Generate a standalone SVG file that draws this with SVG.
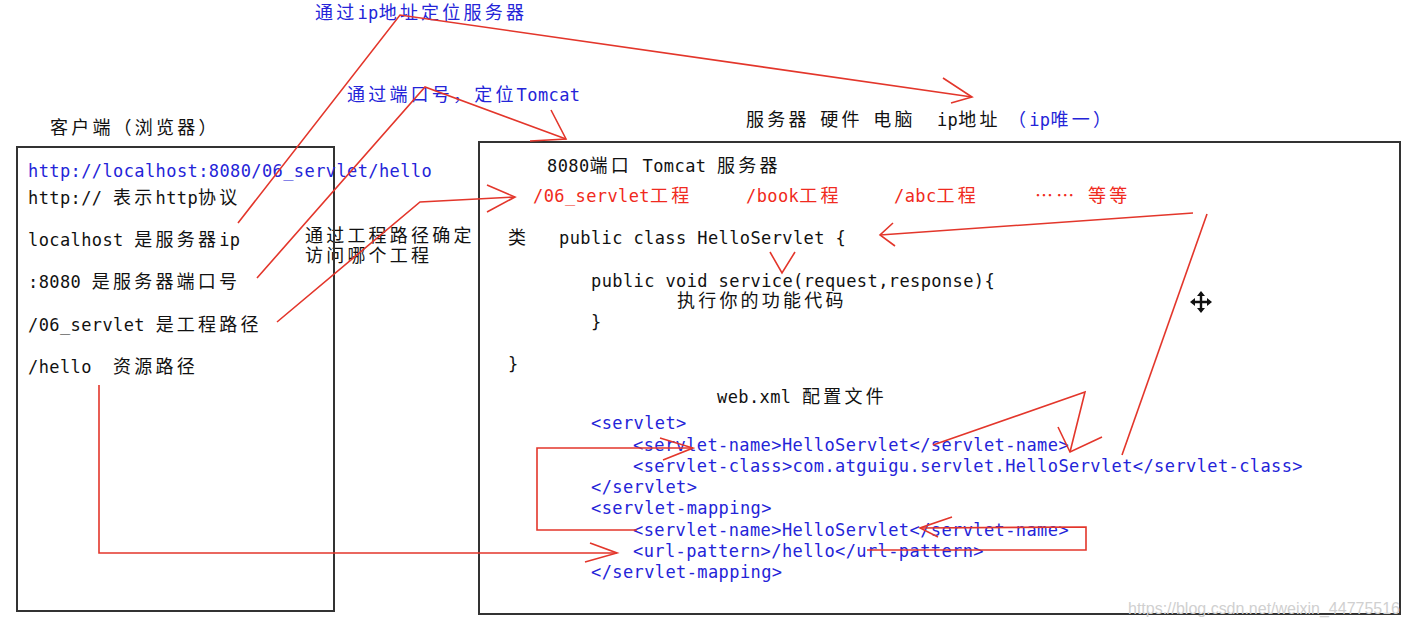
<svg xmlns="http://www.w3.org/2000/svg" width="1408" height="628" viewBox="0 0 1408 628">
<style>
.t{font-family:"DejaVu Sans Mono","Noto Sans CJK SC",monospace;font-size:17px;letter-spacing:0.4px;white-space:pre;fill:#111}
.c{font-family:"Noto Sans CJK SC",sans-serif;font-size:18px;letter-spacing:3.2px}
.b{fill:#2424d8}
.r{fill:#f02a20}
.box{fill:none;stroke:#333;stroke-width:2}
.ln{fill:none;stroke:#e3362b;stroke-width:1.6;stroke-linejoin:miter}
.wm{font-family:"Liberation Sans",Arial,sans-serif;font-size:16px;fill:#d0d0d0}
</style>
<rect width="1408" height="628" fill="#fff"/>

<g id="label-ip">
<text class="t b" x="315" y="19"><tspan class="c">通过</tspan>ip<tspan class="c">地址定位服务器</tspan></text>
</g>
<g id="label-port">
<text class="t b" x="347" y="101"><tspan class="c">通过端口号，定位</tspan>Tomcat</text>
</g>
<g id="label-project">
<text class="t" x="305" y="242"><tspan class="c">通过工程路径确定</tspan></text>
<text class="t" x="305" y="262"><tspan class="c">访问哪个工程</tspan></text>
</g>

<g id="client">
<text class="t" x="50" y="134"><tspan class="c">客户端（浏览器）</tspan></text>
<rect class="box" x="17" y="147" width="317" height="464"/>
<text class="t b" x="28" y="177">http://localhost:8080/06_servlet/hello</text>
<text class="t" x="28" y="204">http:// <tspan class="c">表示</tspan>http<tspan class="c">协议</tspan></text>
<text class="t" x="28" y="246">localhost <tspan class="c">是服务器</tspan>ip</text>
<text class="t" x="28" y="288">:8080 <tspan class="c">是服务器端口号</tspan></text>
<text class="t" x="28" y="331">/06_servlet <tspan class="c">是工程路径</tspan></text>
<text class="t" x="28" y="373">/hello  <tspan class="c">资源路径</tspan></text>
</g>

<g id="server">
<text class="t" x="746" y="126"><tspan class="c">服务器</tspan> <tspan class="c">硬件</tspan> <tspan class="c">电脑</tspan>  ip<tspan class="c">地址</tspan></text>
<text class="t b" x="1008" y="126"><tspan class="c">（</tspan>ip<tspan class="c">唯一）</tspan></text>
<rect class="box" x="479" y="142" width="921" height="472"/>
</g>

<g id="tomcat">
<text class="t" x="547" y="172">8080<tspan class="c">端口</tspan> Tomcat <tspan class="c">服务器</tspan></text>
<text class="t r" x="533" y="202">/06_servlet<tspan class="c">工程</tspan></text>
<text class="t r" x="746" y="202">/book<tspan class="c">工程</tspan></text>
<text class="t r" x="894" y="202">/abc<tspan class="c">工程</tspan></text>
<text class="t r" x="1035" y="202"><tspan class="c">……</tspan> <tspan class="c">等等</tspan></text>
</g>

<g id="servlet-class">
<text class="t" x="508" y="244"><tspan class="c">类</tspan></text>
<text class="t" x="559" y="244">public class HelloServlet {</text>
<text class="t" x="591" y="287">public void service(request,response){</text>
<text class="t" x="677" y="307"><tspan class="c">执行你的功能代码</tspan></text>
<text class="t" x="591" y="328">}</text>
<text class="t" x="508" y="370">}</text>
</g>

<g id="web-xml">
<text class="t" x="717" y="403">web.xml <tspan class="c">配置文件</tspan></text>
<text class="t b" x="591" y="429">&lt;servlet&gt;</text>
<text class="t b" x="633" y="451">&lt;servlet-name&gt;HelloServlet&lt;/servlet-name&gt;</text>
<text class="t b" x="633" y="472">&lt;servlet-class&gt;com.atguigu.servlet.HelloServlet&lt;/servlet-class&gt;</text>
<text class="t b" x="591" y="493">&lt;/servlet&gt;</text>
<text class="t b" x="591" y="514">&lt;servlet-mapping&gt;</text>
<text class="t b" x="633" y="536">&lt;servlet-name&gt;HelloServlet&lt;/servlet-name&gt;</text>
<text class="t b" x="633" y="557">&lt;url-pattern&gt;/hello&lt;/url-pattern&gt;</text>
<text class="t b" x="591" y="578">&lt;/servlet-mapping&gt;</text>
</g>

<g id="connectors">
<polyline class="ln" points="238,223 400,15 972,97"/>
<polyline class="ln" points="943,78 972,97 951,103"/>
<polyline class="ln" points="257,278 425,87 566,139"/>
<polyline class="ln" points="551,110 566,139 530,141"/>
<polyline class="ln" points="277,322 420,202 515,197"/>
<polyline class="ln" points="487,185 515,197 487,212"/>
<polyline class="ln" points="1193,213 880,235"/>
<polyline class="ln" points="893,223 880,235 895,246"/>
<polyline class="ln" points="1122,455 1207,214"/>
<polyline class="ln" points="770,252 782,273 795,252"/>
<polyline class="ln" points="933,445 1085,392 1070,452"/>
<polyline class="ln" points="1058,427 1070,452 1102,437"/>
<polyline class="ln" points="637,530 537,530 537,448 693,448"/>
<polyline class="ln" points="660,438 693,448 663,460"/>
<polyline class="ln" points="867,550 1086,550 1086,527 920,528"/>
<polyline class="ln" points="952,517 920,528 938,537"/>
<polyline class="ln" points="99,385 99,553 617,553"/>
<polyline class="ln" points="590,543 617,553 585,562"/>
</g>

<g id="cursor" fill="#111" stroke="#111">
<path d="M1201,293 V311 M1192,302 H1210" stroke-width="2.4" fill="none"/>
<path d="M1201,291 l-4,5 h8 z M1201,313 l-4,-5 h8 z M1190,302 l5,-4 v8 z M1212,302 l-5,-4 v8 z" stroke="none"/>
</g>

<text class="wm" x="1128" y="614" textLength="272">https://blog.csdn.net/weixin_44775516</text>
</svg>
